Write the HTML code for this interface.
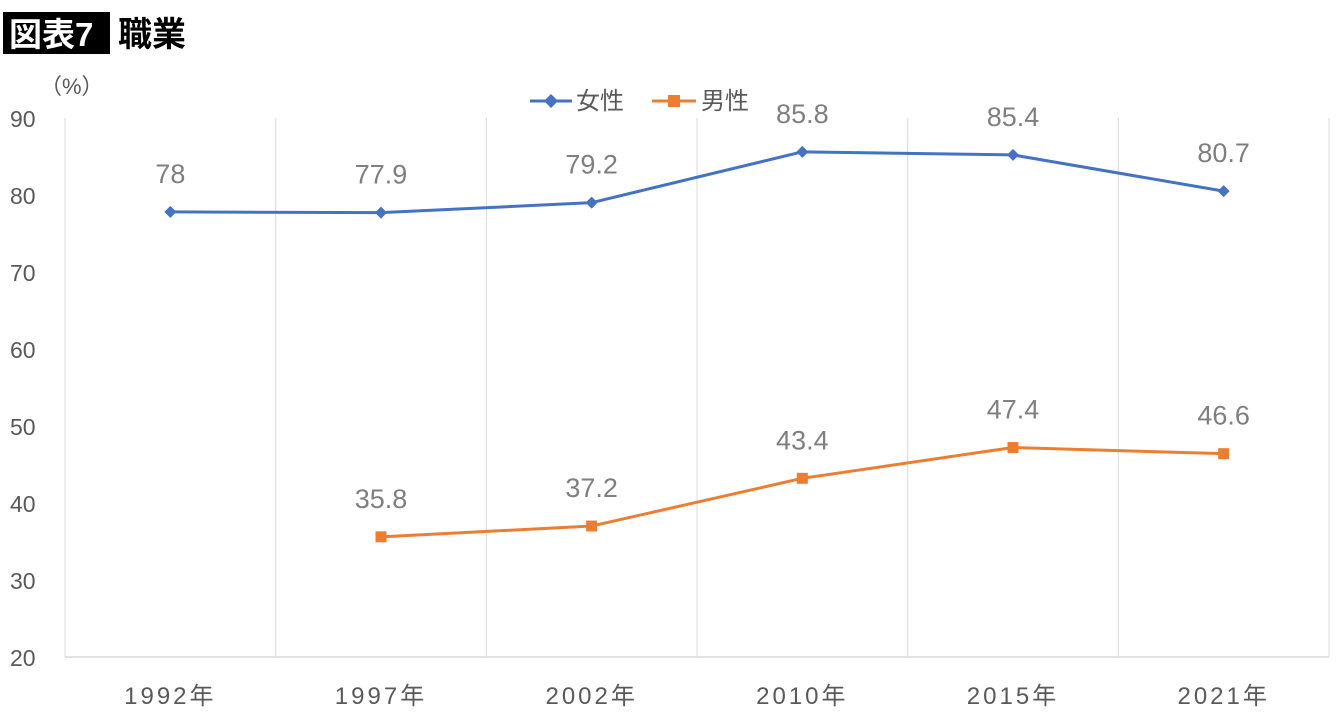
<!DOCTYPE html>
<html><head><meta charset="utf-8"><style>
body{margin:0;background:#fff;width:1340px;height:720px;overflow:hidden;font-family:"Liberation Sans","Noto Sans CJK JP",sans-serif}
</style></head><body>
<svg width="1340" height="720">
<rect x="3" y="12" width="107" height="42" fill="#000"/>
<text x="9" y="46" font-size="33" font-weight="bold" fill="#fff" font-family="Liberation Sans,Noto Sans CJK JP,sans-serif">図表7</text>
<text x="118" y="46" font-size="34" font-weight="bold" fill="#000" font-family="Liberation Sans,Noto Sans CJK JP,sans-serif">職業</text>
<text x="40" y="94" font-size="22" fill="#595959" font-family="Liberation Sans,Noto Sans CJK JP,sans-serif">（%）</text>
<g id="legend">
<line x1="530" y1="101" x2="572" y2="101" stroke="#4472C4" stroke-width="3"/>
<path d="M551 94 L558 101 L551 108 L544 101Z" fill="#4472C4"/>
<text x="576" y="109" font-size="24" fill="#595959" font-family="Liberation Sans,Noto Sans CJK JP,sans-serif">女性</text>
<line x1="652" y1="101" x2="696" y2="101" stroke="#ED7D31" stroke-width="3"/>
<rect x="668" y="95" width="12" height="12" fill="#ED7D31"/>
<text x="701" y="109" font-size="24" fill="#595959" font-family="Liberation Sans,Noto Sans CJK JP,sans-serif">男性</text>
</g>
<g id="grid"></g><g id="axes"></g><g id="series"></g>
</svg>
<script>
const categories=["1992年","1997年","2002年","2010年","2015年","2021年"];
const female=[78,77.9,79.2,85.8,85.4,80.7];
const male=[null,35.8,37.2,43.4,47.4,46.6];
const yTicks=[20,30,40,50,60,70,80,90];
const NS="http://www.w3.org/2000/svg";
const L=65,R=1329,T=118,B=657,ymin=20,ymax=90;
const bw=(R-L)/categories.length;
const x=i=>L+bw*(i+0.5);
const y=v=>B-(v-ymin)/(ymax-ymin)*(B-T)+1.5;
function mk(t,a,p){const e=document.createElementNS(NS,t);for(const k in a)e.setAttribute(k,a[k]);document.getElementById(p).appendChild(e);return e;}
const font='Liberation Sans,Noto Sans CJK JP,sans-serif';
for(let i=0;i<=categories.length;i++){
 const g=mk('line',{x1:L+bw*i,x2:L+bw*i,y1:T,y2:B,stroke:'#d9d9d9','stroke-width':1},'grid');
 
 
}
const ax=mk('line',{x1:L,x2:R,y1:B,y2:B,stroke:'#d9d9d9','stroke-width':1.5},'axes');


yTicks.forEach(v=>{
 const t=mk('text',{x:10,y:B-(v-ymin)/(ymax-ymin)*(B-T)+9,'font-size':23,fill:'#595959','font-family':font},'axes');t.textContent=v;
 
 
});
categories.forEach((c,i)=>{
 const t=mk('text',{x:x(i),y:704,'font-size':24,fill:'#595959','text-anchor':'middle','letter-spacing':'3','font-family':font},'axes');t.textContent=c;
 
 
});
function series(data,color,shape,name){
 let d='';data.forEach((v,i)=>{if(v==null)return;d+=(d?'L':'M')+x(i)+' '+y(v);});
 const p=mk('path',{d:d,fill:'none',stroke:color,'stroke-width':3,'stroke-linejoin':'round'},'series');
 
 
 data.forEach((v,i)=>{if(v==null)return;
  const cx=x(i),cy=y(v);let m;
  if(shape==='d')m=mk('path',{d:`M${cx} ${cy-6}L${cx+6} ${cy}L${cx} ${cy+6}L${cx-6} ${cy}Z`,fill:color},'series');
  else m=mk('rect',{x:cx-5.5,y:cy-5.5,width:11,height:11,fill:color},'series');
  
  
  const t=mk('text',{x:cx,y:cy-29,'font-size':27,fill:'#7f7f7f','text-anchor':'middle','font-family':font},'series');t.textContent=v;
  
  
 });
}
series(female,'#4472C4','d','female');
series(male,'#ED7D31','s','male');
</script>
</body></html>
